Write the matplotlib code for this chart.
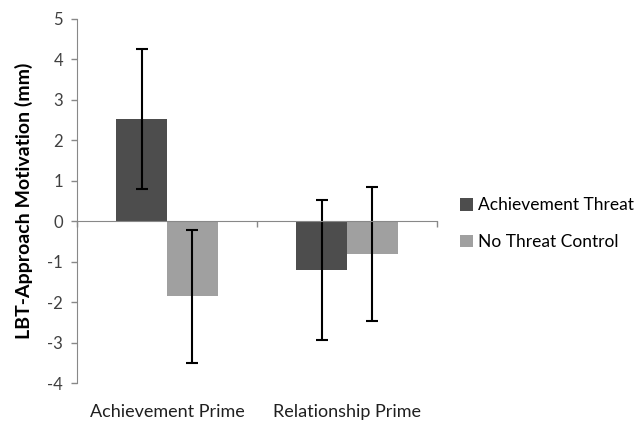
import matplotlib
matplotlib.use("Agg")
import matplotlib.pyplot as plt
import numpy as np

categories = ["Achievement Prime", "Relationship Prime"]
series_names = ["Achievement Threat", "No Threat Control"]
threat_vals = [2.52, -1.20]
threat_err = [1.73, 1.73]
control_vals = [-1.86, -0.81]
control_err = [1.65, 1.65]
yticks = [-4, -3, -2, -1, 0, 1, 2, 3, 4, 5]

plt.rcParams['font.family'] = ['Lato', 'DejaVu Sans']

fig = plt.figure(figsize=(6.44, 4.26), dpi=100)
ax = fig.add_axes([0.1196, 0.1009, 0.559, 0.8545])

x = np.arange(len(categories))
w = 0.283
c_dark = "#4d4d4d"
c_light = "#a0a0a0"
ekw = dict(ecolor="black", elinewidth=1.5, capsize=4, capthick=1.5)
ax.bar(x - w / 2, threat_vals, w, color=c_dark, yerr=threat_err,
       error_kw=ekw, label=series_names[0], zorder=2)
ax.bar(x + w / 2, control_vals, w, color=c_light, yerr=control_err,
       error_kw=ekw, label=series_names[1], zorder=2)

ax.set_xlim(-0.5, len(categories) - 0.5)
ax.set_ylim(-4, 5)
ax.set_yticks(yticks)
ax.set_yticklabels([str(t) for t in yticks], fontsize=12, color="#404040")
ax.tick_params(axis="y", direction="out", length=4, color="#888888", width=1, pad=6)

for s in ["top", "right"]:
    ax.spines[s].set_visible(False)
ax.spines["left"].set_color("#888888")
ax.spines["bottom"].set_color("#888888")
ax.spines["bottom"].set_position(("data", 0))
ax.spines["bottom"].set_zorder(3)

ax.set_xticks(np.arange(len(categories) + 1) - 0.5)
ax.set_xticklabels([])
ax.tick_params(axis="x", direction="out", length=4, color="#888888", width=1)

for i, c in enumerate(categories):
    ax.annotate(c, xy=(i, -4), xycoords="data", xytext=(0, -21),
                textcoords="offset points", ha="center", va="center",
                fontsize=13, color="#202020")

ax.set_ylabel("LBT-Approach Motivation (mm)", fontsize=14, fontweight="bold",
              labelpad=10)

fig.legend(loc="center left", bbox_to_anchor=(0.69, 0.475), frameon=False,
           fontsize=12.5, handlelength=0.75, handleheight=0.75,
           handletextpad=0.3, labelspacing=1.2)

fig.savefig("out.png", dpi=100)
